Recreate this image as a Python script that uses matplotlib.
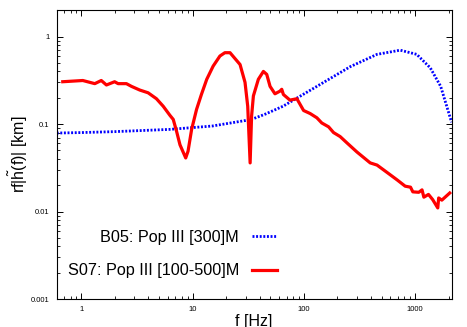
import matplotlib
matplotlib.use('Agg')
import matplotlib.pyplot as plt

plt.rcParams['font.family'] = ['Liberation Sans', 'DejaVu Sans']
plt.rcParams['mathtext.fontset'] = 'custom'
plt.rcParams['mathtext.rm'] = 'Liberation Sans'
plt.rcParams['mathtext.it'] = 'Liberation Sans'

# B05: Pop III [300]M (blue dotted)
b05_f = [0.6, 1.0, 2.0, 6.25, 15, 30, 35, 45, 65, 131, 261, 455, 735, 1035, 1370, 1700, 2130]
b05_v = [0.079, 0.080, 0.082, 0.087, 0.095, 0.110, 0.115, 0.130, 0.16, 0.27, 0.453, 0.627, 0.70, 0.627, 0.44, 0.27, 0.105]

# S07: Pop III [100-500]M (red solid)
s07_f = [0.68, 1.03, 1.32, 1.51, 1.68, 1.99, 2.14, 2.54, 2.82, 3.35, 3.98, 4.73, 5.44,
         6.25, 6.7, 7.17, 7.7, 8.67, 9.1, 9.8, 10.85, 12.0, 13.4, 15.3, 17.6, 19.5,
         21.7, 26.7, 29.6, 31.3, 32.9, 33.9, 35.2, 39, 43.3, 46.4, 49.7, 55, 61, 63.3,
         65.5, 75, 86.6, 99.5, 114, 131, 145, 167, 185, 212, 244, 300, 395, 455, 560,
         690, 815, 910, 955, 1080, 1155, 1200, 1320, 1440, 1600, 1630, 1740, 2050]
s07_v = [0.305, 0.315, 0.29, 0.315, 0.28, 0.305, 0.29, 0.29, 0.27, 0.245, 0.228, 0.195, 0.16,
         0.126, 0.113, 0.083, 0.058, 0.041, 0.049, 0.087, 0.147, 0.218, 0.325, 0.46, 0.6, 0.655,
         0.655, 0.48, 0.30, 0.16, 0.036, 0.123, 0.21, 0.325, 0.40, 0.37, 0.27, 0.222, 0.238, 0.25,
         0.218, 0.188, 0.195, 0.143, 0.132, 0.118, 0.103, 0.093, 0.08, 0.072, 0.061, 0.048, 0.036, 0.034, 0.028,
         0.023, 0.0195, 0.019, 0.0168, 0.0166, 0.0177, 0.0146, 0.0157, 0.0137, 0.011, 0.0143, 0.0135, 0.0163]

xticks = [1, 10, 100, 1000]
xtick_labels = ['1', '10', '100', '1000']
yticks = [0.001, 0.01, 0.1, 1]
ytick_labels = ['0.001', '0.01', '0.1', '1']

fig = plt.figure(figsize=(4.67, 3.27), dpi=100)
ax = fig.add_axes([0.1214, 0.0856, 0.967 - 0.1214, 0.9685 - 0.0856])

ax.plot(b05_f, b05_v, color='#0000ff', lw=2.0, linestyle=(0, (0.7, 0.6)),
        label='B05: Pop III [300]M')
ax.plot(s07_f, s07_v, color='#ff0000', lw=2.3, label='S07: Pop III [100-500]M')

ax.set_xscale('log')
ax.set_yscale('log')
ax.set_xlim(0.6, 2130)
ax.set_ylim(0.001, 2.0)
ax.set_xticks(xticks, xtick_labels)
ax.set_yticks(yticks, ytick_labels)
ax.tick_params(which='both', direction='in', top=True, right=True, labelsize=5.5, pad=5)
ax.tick_params(which='major', length=4, width=0.7)
ax.tick_params(which='minor', length=2.2, width=0.6)
for s in ax.spines.values():
    s.set_linewidth(0.8)

ax.set_xlabel('f [Hz]', fontsize=11.5, labelpad=1)
ax.set_ylabel(r'rf$|\tilde{\mathrm{h}}(\mathrm{f})|$ [km]', fontsize=11.5, labelpad=1)

ax.legend(loc='lower right', bbox_to_anchor=(0.595, 0.021), markerfirst=False, frameon=False,
          fontsize=11.7, handlelength=1.54, handletextpad=0.8, labelspacing=1.12,
          borderpad=0.4)

fig.savefig('out.png', dpi=100)
